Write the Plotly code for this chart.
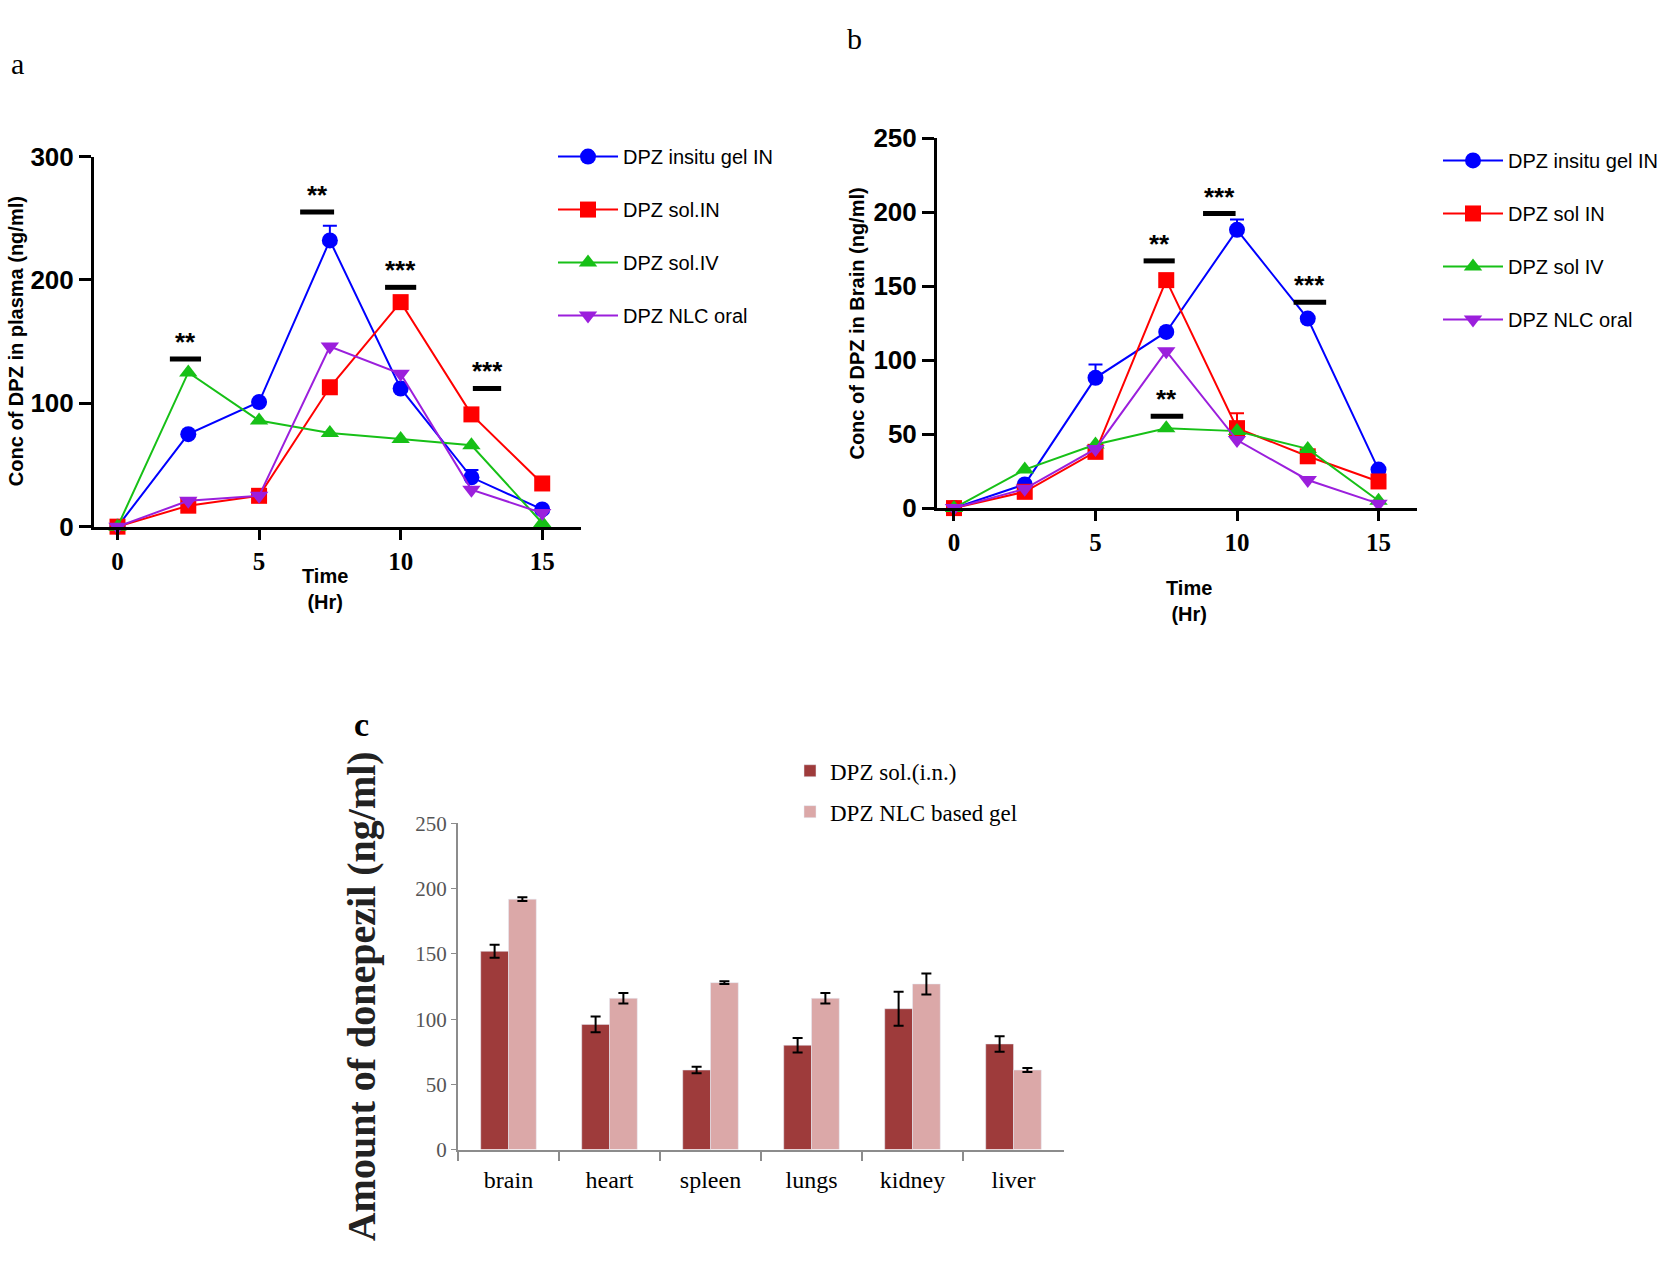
import plotly.graph_objects as go

W, H = 1664, 1273

# ---- panel a : plasma ----
time_hr = [0, 2.5, 5, 7.5, 10, 12.5, 15]
plasma_gel_in = [0, 75, 101, 232, 112, 40, 14]
plasma_sol_in = [0, 17, 25, 113, 182, 91, 35]
plasma_sol_iv = [0, 125, 86, 76, 71, 66, 3]
plasma_nlc_oral = [0, 21, 25, 146, 124, 30, 11]
plasma_gel_in_err = [0, 0, 0, 12, 0, 6, 0]

sig_a_x0 = [1.85, 6.45, 9.45, 12.55]
sig_a_x1 = [2.95, 7.65, 10.55, 13.55]
sig_a_y = [136, 255, 194, 112]
sig_a_txt = ["**", "**", "***", "***"]

# ---- panel b : brain ----
brain_gel_in = [0, 16, 88, 119, 188, 128, 26]
brain_sol_in = [0, 11, 38, 154, 54, 35, 18]
brain_sol_iv = [0, 26, 43, 54, 52, 40, 5]
brain_nlc_oral = [0, 13, 40, 106, 46, 19, 3]
brain_gel_in_err = [0, 0, 9, 0, 7, 0, 0]
brain_sol_in_err = [0, 0, 0, 0, 10, 0, 0]

sig_b_x0 = [6.7, 6.95, 8.8, 12.0]
sig_b_x1 = [7.8, 8.1, 9.95, 13.15]
sig_b_y = [167, 62, 199, 139]
sig_b_txt = ["**", "**", "***", "***"]

# ---- panel c : organs ----
organs = ["brain", "heart", "spleen", "lungs", "kidney", "liver"]
sol_in = [152, 96, 61, 80, 108, 81]
sol_in_err = [5, 6, 2.5, 5.5, 13, 6]
nlc_gel = [192, 116, 128, 116, 127, 61]
nlc_gel_err = [1.5, 4, 1, 4, 8, 1.5]


def fx(p):
    return p / W


def fy(p):
    return 1 - p / H


line_colors = ["#0000ff", "#ff0000", "#17c017", "#9b1fdc"]
symbols = ["circle", "square", "triangle-up", "triangle-down"]

fig = go.Figure()

names_a = ["DPZ insitu gel IN", "DPZ sol.IN", "DPZ sol.IV", "DPZ NLC oral"]
series_a = [plasma_gel_in, plasma_sol_in, plasma_sol_iv, plasma_nlc_oral]
errs_a = [plasma_gel_in_err, None, None, None]
for i in range(4):
    err = None
    if errs_a[i] is not None:
        err = dict(type="data", symmetric=False, array=errs_a[i],
                   arrayminus=[0] * 7, color=line_colors[i], thickness=2, width=7)
    fig.add_trace(go.Scatter(
        x=time_hr, y=series_a[i], name=names_a[i], mode="lines+markers",
        line=dict(color=line_colors[i], width=2),
        marker=dict(symbol=symbols[i], size=16, color=line_colors[i]),
        error_y=err, cliponaxis=False, xaxis="x", yaxis="y",
        legend="legend", legendgroup="a%d" % i))

names_b = ["DPZ insitu gel IN", "DPZ sol IN", "DPZ sol IV", "DPZ NLC oral"]
series_b = [brain_gel_in, brain_sol_in, brain_sol_iv, brain_nlc_oral]
errs_b = [brain_gel_in_err, brain_sol_in_err, None, None]
for i in range(4):
    err = None
    if errs_b[i] is not None:
        err = dict(type="data", symmetric=False, array=errs_b[i],
                   arrayminus=[0] * 7, color=line_colors[i], thickness=2, width=7)
    fig.add_trace(go.Scatter(
        x=time_hr, y=series_b[i], name=names_b[i], mode="lines+markers",
        line=dict(color=line_colors[i], width=2),
        marker=dict(symbol=symbols[i], size=16, color=line_colors[i]),
        error_y=err, cliponaxis=False, xaxis="x2", yaxis="y2",
        legend="legend2", legendgroup="b%d" % i))

fig.add_trace(go.Bar(
    x=organs, y=sol_in, name="DPZ sol.(i.n.)", marker_color="#9e3b3b",
    error_y=dict(type="data", array=sol_in_err, color="black", thickness=2, width=5),
    xaxis="x3", yaxis="y3", legend="legend3", legendgroup="c0"))
fig.add_trace(go.Bar(
    x=organs, y=nlc_gel, name="DPZ NLC based gel", marker_color="#dba8a8",
    error_y=dict(type="data", array=nlc_gel_err, color="black", thickness=2, width=5),
    xaxis="x3", yaxis="y3", legend="legend3", legendgroup="c1"))

# significance bars and stars
shapes = []
annotations = []
for xr, yr, x0s, x1s, ys, txts in [("x", "y", sig_a_x0, sig_a_x1, sig_a_y, sig_a_txt),
                                   ("x2", "y2", sig_b_x0, sig_b_x1, sig_b_y, sig_b_txt)]:
    for x0, x1, yv, t in zip(x0s, x1s, ys, txts):
        shapes.append(dict(type="line", xref=xr, yref=yr, x0=x0, x1=x1, y0=yv, y1=yv,
                           line=dict(color="black", width=5)))
        annotations.append(dict(x=(x0 + x1) / 2, y=yv, xref=xr, yref=yr, text="<b>%s</b>" % t,
                                showarrow=False, yanchor="bottom", yshift=0,
                                font=dict(family="Liberation Sans", size=26, color="black")))

sans = "Liberation Sans"
serif = "Liberation Serif"


def note(x, y, text, size, family, xref="paper", angle=0, color="black"):
    return dict(x=x, y=y, xref=xref, yref="paper", text=text, showarrow=False,
                xanchor="center", yanchor="middle", textangle=angle,
                font=dict(family=family, size=size, color=color))


annotations += [
    note(fx(17), fy(50), "a", 30, serif),
    note(fx(854), fy(24), "b", 30, serif),
    note(fx(361), fy(727), "<b>c</b>", 34, serif),
    note(fx(16), fy(334), "<b>Conc of DPZ in plasma (ng/ml)</b>", 20, sans, angle=-90),
    note(fx(857), fy(316), "<b>Conc of DPZ in Brain (ng/ml)</b>", 20, sans, angle=-90),
    note(7.33, fy(588), "<b>Time<br>(Hr)</b>", 20, sans, xref="x"),
    note(8.3, fy(600), "<b>Time<br>(Hr)</b>", 20, sans, xref="x2"),
    note(fx(361), fy(1005), "<b>Amount of donepezil (ng/ml)</b>", 40, serif, angle=-90,
         color="#222222"),
]

axis_ab = dict(showgrid=False, zeroline=False, showline=True, linecolor="black", linewidth=3,
               ticks="outside", tickwidth=3, tickcolor="black")

fig.update_layout(
    width=W, height=H, margin=dict(l=0, r=0, t=0, b=0),
    paper_bgcolor="white", plot_bgcolor="white",
    xaxis=dict(axis_ab, domain=[fx(94), fx(581)], range=[-0.83, 16.37], tickvals=[0, 5, 10, 15],
               ticklen=10, tickfont=dict(family=serif, size=25, color="black", weight="bold"),
               anchor="y"),
    yaxis=dict(axis_ab, domain=[fy(524), fy(145)], range=[0, 300], tickvals=[0, 100, 200, 300],
               ticklen=12, tickfont=dict(family=sans, size=26, color="black", weight="bold"),
               anchor="x"),
    xaxis2=dict(axis_ab, domain=[fx(937), fx(1417)], range=[-0.6, 16.36], tickvals=[0, 5, 10, 15],
                ticklen=10, tickfont=dict(family=serif, size=25, color="black", weight="bold"),
                anchor="y2"),
    yaxis2=dict(axis_ab, domain=[fy(505), fy(126)], range=[0, 250],
                tickvals=[0, 50, 100, 150, 200, 250], ticklen=12,
                tickfont=dict(family=sans, size=26, color="black", weight="bold"), anchor="x2"),
    xaxis3=dict(domain=[fx(458), fx(1064)], range=[-0.5, 5.5], showgrid=False, showline=True,
                linecolor="#8c8c8c", linewidth=2, ticks="outside", tickson="boundaries",
                ticklen=9, tickcolor="#8c8c8c", tickwidth=2, ticklabelstandoff=8,
                tickfont=dict(family=serif, size=24, color="black"), anchor="y3"),
    yaxis3=dict(domain=[fy(1162), fy(828)], range=[0, 250], tickvals=[0, 50, 100, 150, 200, 250],
                showgrid=False, zeroline=False, showline=True, linecolor="#8c8c8c", linewidth=2,
                ticks="outside", ticklen=5, tickcolor="#8c8c8c",
                tickfont=dict(family=serif, size=21, color="#555555"), anchor="x3"),
    barmode="group", bargap=0.45, bargroupgap=0,
    legend=dict(x=fx(553), y=fy(125), xanchor="left", yanchor="top", traceorder="grouped",
                tracegroupgap=24, itemwidth=60, bgcolor="rgba(0,0,0,0)",
                font=dict(family=sans, size=20, color="black")),
    legend2=dict(x=fx(1438), y=fy(129), xanchor="left", yanchor="top", traceorder="grouped",
                 tracegroupgap=24, itemwidth=60, bgcolor="rgba(0,0,0,0)",
                 font=dict(family=sans, size=20, color="black")),
    legend3=dict(x=fx(790), y=fy(752), xanchor="left", yanchor="top", traceorder="grouped",
                 tracegroupgap=8, bgcolor="rgba(0,0,0,0)", itemwidth=30,
                 font=dict(family=serif, size=23, color="black")),
    shapes=shapes, annotations=annotations,
)

fig.write_html("out.html", config={"displayModeBar": False},
               post_script="document.body.style.margin='0';")
